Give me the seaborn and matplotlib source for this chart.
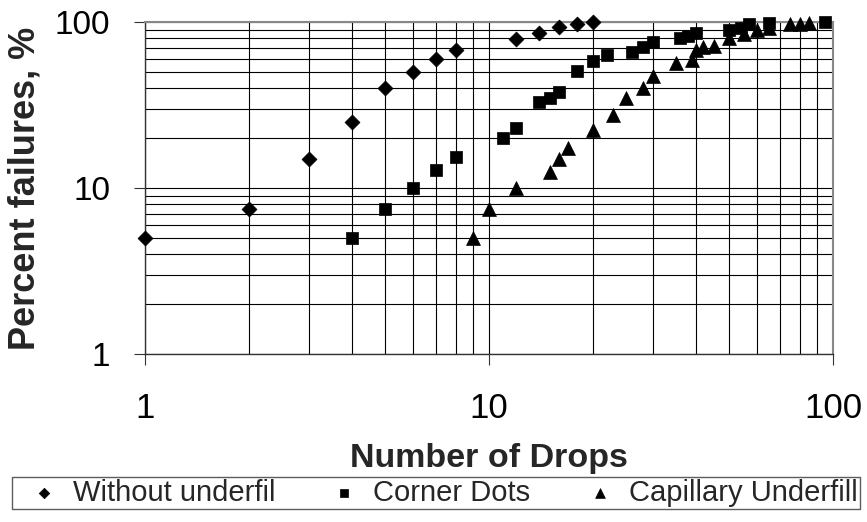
import matplotlib
matplotlib.use("Agg")
import matplotlib.pyplot as plt
import matplotlib.ticker as mticker
from matplotlib import font_manager
import seaborn as sns
import pandas as pd

# ---- data ----
wo_x = [1, 2, 3, 4, 5, 6, 7, 8, 12, 14, 16, 18, 20]
wo_y = [5, 7.5, 15, 25, 40, 50, 60, 68, 79, 86, 93, 97, 100]

cd_x = [4, 5, 6, 7, 8, 11, 12, 14, 15, 16, 18, 20, 22, 26, 28, 30, 36, 38, 40, 50, 54, 57, 65, 95]
cd_y = [5, 7.5, 10, 12.8, 15.4, 20, 23, 33, 35, 38, 51, 58, 63, 66, 71, 76, 80, 82, 86, 90, 92, 97, 99, 100]

cu_x = [9, 10, 12, 15, 16, 17, 20, 23, 25, 28, 30, 35, 39, 40, 42, 45, 50, 55, 60, 65, 75, 80, 85]
cu_y = [5, 7.5, 10, 12.5, 15, 17.5, 22.5, 27.5, 35, 40, 47.5, 57, 59, 67.5, 71, 72, 80, 85, 90, 92, 97.5, 97.5, 98.5]

series_names = ["Without underfil", "Corner Dots", "Capillary Underfill"]
major_ticks = [1, 10, 100]
tick_labels = ["1", "10", "100"]
x_title = "Number of Drops"
y_title = "Percent failures, %"

sns.set_theme(style="white")
avail = {f.name for f in font_manager.fontManager.ttflist}
fam = "Liberation Sans" if "Liberation Sans" in avail else "DejaVu Sans"
plt.rcParams["font.family"] = [fam, "DejaVu Sans"]

fig = plt.figure(figsize=(8.67, 5.22), dpi=100)
ax = fig.add_axes([145 / 867, 1 - 354 / 522, (833 - 145) / 867, (354 - 22) / 522])

df_wo = pd.DataFrame({"x": wo_x, "y": wo_y})
df_cd = pd.DataFrame({"x": cd_x, "y": cd_y})
df_cu = pd.DataFrame({"x": cu_x, "y": cu_y})

common = dict(color="black", edgecolor="black", linewidth=0.5, clip_on=False, zorder=5, ax=ax)
sns.scatterplot(data=df_wo, x="x", y="y", marker="D", s=58, label=series_names[0], **common)
sns.scatterplot(data=df_cd, x="x", y="y", marker="s", s=85, label=series_names[1], **common)
sns.scatterplot(data=df_cu, x="x", y="y", marker="^", s=100, label=series_names[2], **common)

ax.set_xscale("log")
ax.set_yscale("log")
ax.set_xlim(1, 100)
ax.set_ylim(1, 100)

for axis in (ax.xaxis, ax.yaxis):
    axis.set_major_locator(mticker.FixedLocator(major_ticks))
    axis.set_minor_locator(mticker.LogLocator(base=10, subs=range(2, 10)))
    axis.set_minor_formatter(mticker.NullFormatter())
ax.set_xticks(major_ticks, tick_labels)
ax.set_yticks(major_ticks, tick_labels)

ax.grid(True, which="both", color="black", linewidth=0.8)
ax.set_axisbelow(True)

ax.tick_params(axis="both", which="major", direction="out", length=8, width=0.8,
               color="#333333", labelcolor="black", bottom=True, left=True)
ax.tick_params(axis="x", which="major", pad=19, labelsize=25)
ax.tick_params(axis="y", which="major", pad=17, labelsize=24)
ax.tick_params(axis="both", which="minor", length=0)

for side in ("left", "bottom"):
    ax.spines[side].set_color("#333333")
    ax.spines[side].set_linewidth(1.0)
for side in ("top", "right"):
    ax.spines[side].set_color("#888888")
    ax.spines[side].set_linewidth(1.5)

ax.set_xlabel(x_title, fontsize=24.5, fontweight="bold", labelpad=13)
ax.set_ylabel(y_title, fontsize=26, fontweight="bold", labelpad=8.5)

handles, labels = ax.get_legend_handles_labels()
if ax.legend_ is not None:
    ax.legend_.remove()
leg = fig.legend(handles, labels, loc="upper left",
                 bbox_to_anchor=(12 / 867, 1 - 482 / 522, 848 / 867, 0.01),
                 bbox_transform=fig.transFigure, mode="expand", ncol=3,
                 fontsize=21, frameon=True, fancybox=False, edgecolor="#333333",
                 borderpad=0.08, handlelength=2.0, handletextpad=0.0,
                 markerscale=0.7, borderaxespad=0)
leg.get_frame().set_linewidth(1.0)

fig.savefig("out.png", dpi=100)
